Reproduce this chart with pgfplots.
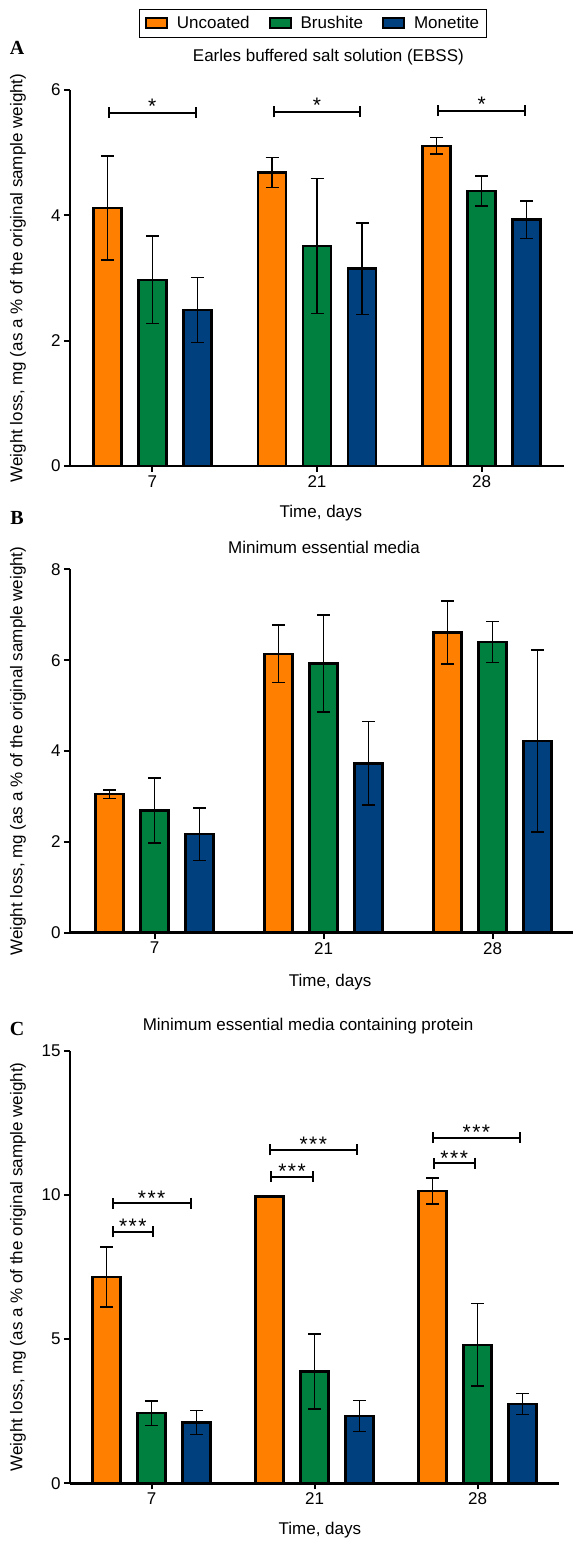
\documentclass[border=0pt]{standalone}
\usepackage{fontspec}
\setmainfont{Liberation Sans}
\newfontfamily\letterfont{Liberation Serif}
\usepackage{pgfplots}
\pgfplotsset{compat=1.18}
\usetikzlibrary{arrows.meta}

\definecolor{corange}{HTML}{FF8000}
\definecolor{cgreen}{HTML}{00803F}
\definecolor{cblue}{HTML}{00407F}
\newcommand{\fs}{\fontsize{17bp}{20bp}\selectfont}
\newcommand{\stars}{*\kern1.5bp*\kern1.5bp*}

\tikzset{
  sig/.style={line width=2bp, {Bar[width=11bp]}-{Bar[width=11bp]}},
  star/.style={midway, anchor=base, inner sep=0, font=\fontsize{21bp}{22bp}\selectfont, yshift=-2bp},
}

\pgfplotsset{
  panel/.style={
    scale only axis,
    anchor=south west,
    xmin=-0.5, xmax=2.5, ymin=0,
    enlarge x limits=false,
    ybar=17bp, bar width=28bp,
    axis x line=bottom, axis y line=left,
    axis line style={-, line width=2.5bp, black},
    xtick={0,1,2}, xticklabels={7,21,28},
    tick align=outside,
    major tick length=6bp,
    tick style={line width=2bp, black},
    /pgf/number format/assume math mode=true,
    tick label style={font=\fs},
    label style={font=\fs},
    title style={font=\fs},
    clip=false,
    xlabel={Time, days},
    ylabel={Weight loss, mg (as a \% of the original sample weight)},
  },
  grp/.style={
    draw=black, line width=2.5bp, fill=#1,
    legend image code/.code={\draw[##1,/tikz/.cd,line width=2bp] (0bp,-5bp) rectangle (21bp,5bp);},
  },
}

\begin{document}
\begin{tikzpicture}[font=\fs]
\useasboundingbox (0,0) rectangle (573bp,1541bp);

% ---- A: EBSS
\begin{axis}[panel,
  at={(70bp,1075bp)}, width=494bp, height=376bp,
  ymax=6, ytick={0,2,4,6},
  title={Earles buffered salt solution (EBSS)},
  title style={at={(0.523,1)}, anchor=center, yshift=27bp},
  xlabel style={at={(axis description cs:0.508,0)}, anchor=center, yshift=-47bp},
  ylabel style={at={(axis description cs:-0.1055,0.5)}, anchor=center},
  legend style={at={(0.492,1.2154)}, anchor=north, legend columns=3,
    draw=black, line width=1bp, font=\fs, inner xsep=5bp, inner ysep=5bp,
    /tikz/every odd column/.append style={column sep=7bp},
    /tikz/every even column/.append style={column sep=17bp}},
]
\addplot[grp=corange, error bars/.cd, y dir=both, y explicit,
  error bar style={line width=1.5bp, black},
  error mark options={rotate=90, line width=1.5bp, black, mark size=6.5bp}]
  coordinates {(0,4.12) +- (0,0.83) (1,4.68) +- (0,0.24) (2,5.11) +- (0,0.13)};
\addlegendentry{Uncoated\hspace{11bp}}
\addplot[grp=cgreen, error bars/.cd, y dir=both, y explicit,
  error bar style={line width=1.5bp, black},
  error mark options={rotate=90, line width=1.5bp, black, mark size=6.5bp}]
  coordinates {(0,2.97) +- (0,0.70) (1,3.51) +- (0,1.08) (2,4.39) +- (0,0.24)};
\addlegendentry{Brushite}
\addplot[grp=cblue, error bars/.cd, y dir=both, y explicit,
  error bar style={line width=1.5bp, black},
  error mark options={rotate=90, line width=1.5bp, black, mark size=6.5bp}]
  coordinates {(0,2.49) +- (0,0.52) (1,3.15) +- (0,0.73) (2,3.93) +- (0,0.30)};
\addlegendentry{Monetite}
\draw[sig] (axis cs:-0.27,5.64) -- (axis cs:0.27,5.64) node[star, yshift=1bp] {*};
\draw[sig] (axis cs:0.73,5.65) -- (axis cs:1.27,5.65) node[star, yshift=1bp] {*};
\draw[sig] (axis cs:1.73,5.67) -- (axis cs:2.27,5.67) node[star, yshift=1bp] {*};
\end{axis}

% ---- B: MEM
\begin{axis}[panel,
  at={(70bp,608.3bp)}, width=507bp, height=363.3bp,
  ymax=8, ytick={0,2,4,6,8},
  title={Minimum essential media},
  title style={at={(0.501,1)}, anchor=center, yshift=16bp},
  xlabel style={at={(axis description cs:0.513,0)}, anchor=center, yshift=-49bp},
  ylabel style={at={(axis description cs:-0.1026,0.5)}, anchor=center},
]
\addplot[grp=corange, error bars/.cd, y dir=both, y explicit,
  error bar style={line width=1.5bp, black},
  error mark options={rotate=90, line width=1.5bp, black, mark size=6.5bp}]
  coordinates {(0,3.05) +- (0,0.09) (1,6.14) +- (0,0.63) (2,6.61) +- (0,0.69)};
\addplot[grp=cgreen, error bars/.cd, y dir=both, y explicit,
  error bar style={line width=1.5bp, black},
  error mark options={rotate=90, line width=1.5bp, black, mark size=6.5bp}]
  coordinates {(0,2.69) +- (0,0.72) (1,5.93) +- (0,1.07) (2,6.40) +- (0,0.45)};
\addplot[grp=cblue, error bars/.cd, y dir=both, y explicit,
  error bar style={line width=1.5bp, black},
  error mark options={rotate=90, line width=1.5bp, black, mark size=6.5bp}]
  coordinates {(0,2.17) +- (0,0.58) (1,3.73) +- (0,0.92) (2,4.22) +- (0,2.00)};
\end{axis}

% ---- C: MEM + protein
\begin{axis}[panel,
  at={(70bp,57.7bp)}, width=489bp, height=432.7bp,
  ymax=15, ytick={0,5,10,15},
  title={Minimum essential media containing protein},
  title style={at={(0.487,1)}, anchor=center, yshift=19bp},
  xlabel style={at={(axis description cs:0.511,0)}, anchor=center, yshift=-47bp},
  ylabel style={at={(axis description cs:-0.1063,0.5)}, anchor=center},
]
\addplot[grp=corange, error bars/.cd, y dir=both, y explicit,
  error bar style={line width=1.5bp, black},
  error mark options={rotate=90, line width=1.5bp, black, mark size=6.5bp}]
  coordinates {(0,7.16) +- (0,1.04) (1,9.94) +- (0,0.03) (2,10.13) +- (0,0.45)};
\addplot[grp=cgreen, error bars/.cd, y dir=both, y explicit,
  error bar style={line width=1.5bp, black},
  error mark options={rotate=90, line width=1.5bp, black, mark size=6.5bp}]
  coordinates {(0,2.43) +- (0,0.43) (1,3.87) +- (0,1.30) (2,4.80) +- (0,1.43)};
\addplot[grp=cblue, error bars/.cd, y dir=both, y explicit,
  error bar style={line width=1.5bp, black},
  error mark options={rotate=90, line width=1.5bp, black, mark size=6.5bp}]
  coordinates {(0,2.11) +- (0,0.41) (1,2.33) +- (0,0.54) (2,2.75) +- (0,0.36)};
\draw[sig] (axis cs:-0.245,8.72) -- (axis cs:0.016,8.72) node[star] {\stars};
\draw[sig] (axis cs:-0.245,9.71) -- (axis cs:0.247,9.71) node[star] {\stars};
\draw[sig] (axis cs:0.73,10.63) -- (axis cs:0.994,10.63) node[star] {\stars};
\draw[sig] (axis cs:0.721,11.56) -- (axis cs:1.264,11.56) node[star] {\stars};
\draw[sig] (axis cs:1.724,11.10) -- (axis cs:1.99,11.10) node[star] {\stars};
\draw[sig] (axis cs:1.72,11.98) -- (axis cs:2.266,11.98) node[star] {\stars};
\end{axis}

\node[font=\letterfont\bfseries\fontsize{20bp}{22bp}\selectfont] at (17bp,1493bp) {A};
\node[font=\letterfont\bfseries\fontsize{20bp}{22bp}\selectfont] at (17bp,1023bp) {B};
\node[font=\letterfont\bfseries\fontsize{20bp}{22bp}\selectfont] at (17bp,512bp) {C};
\end{tikzpicture}
\end{document}
